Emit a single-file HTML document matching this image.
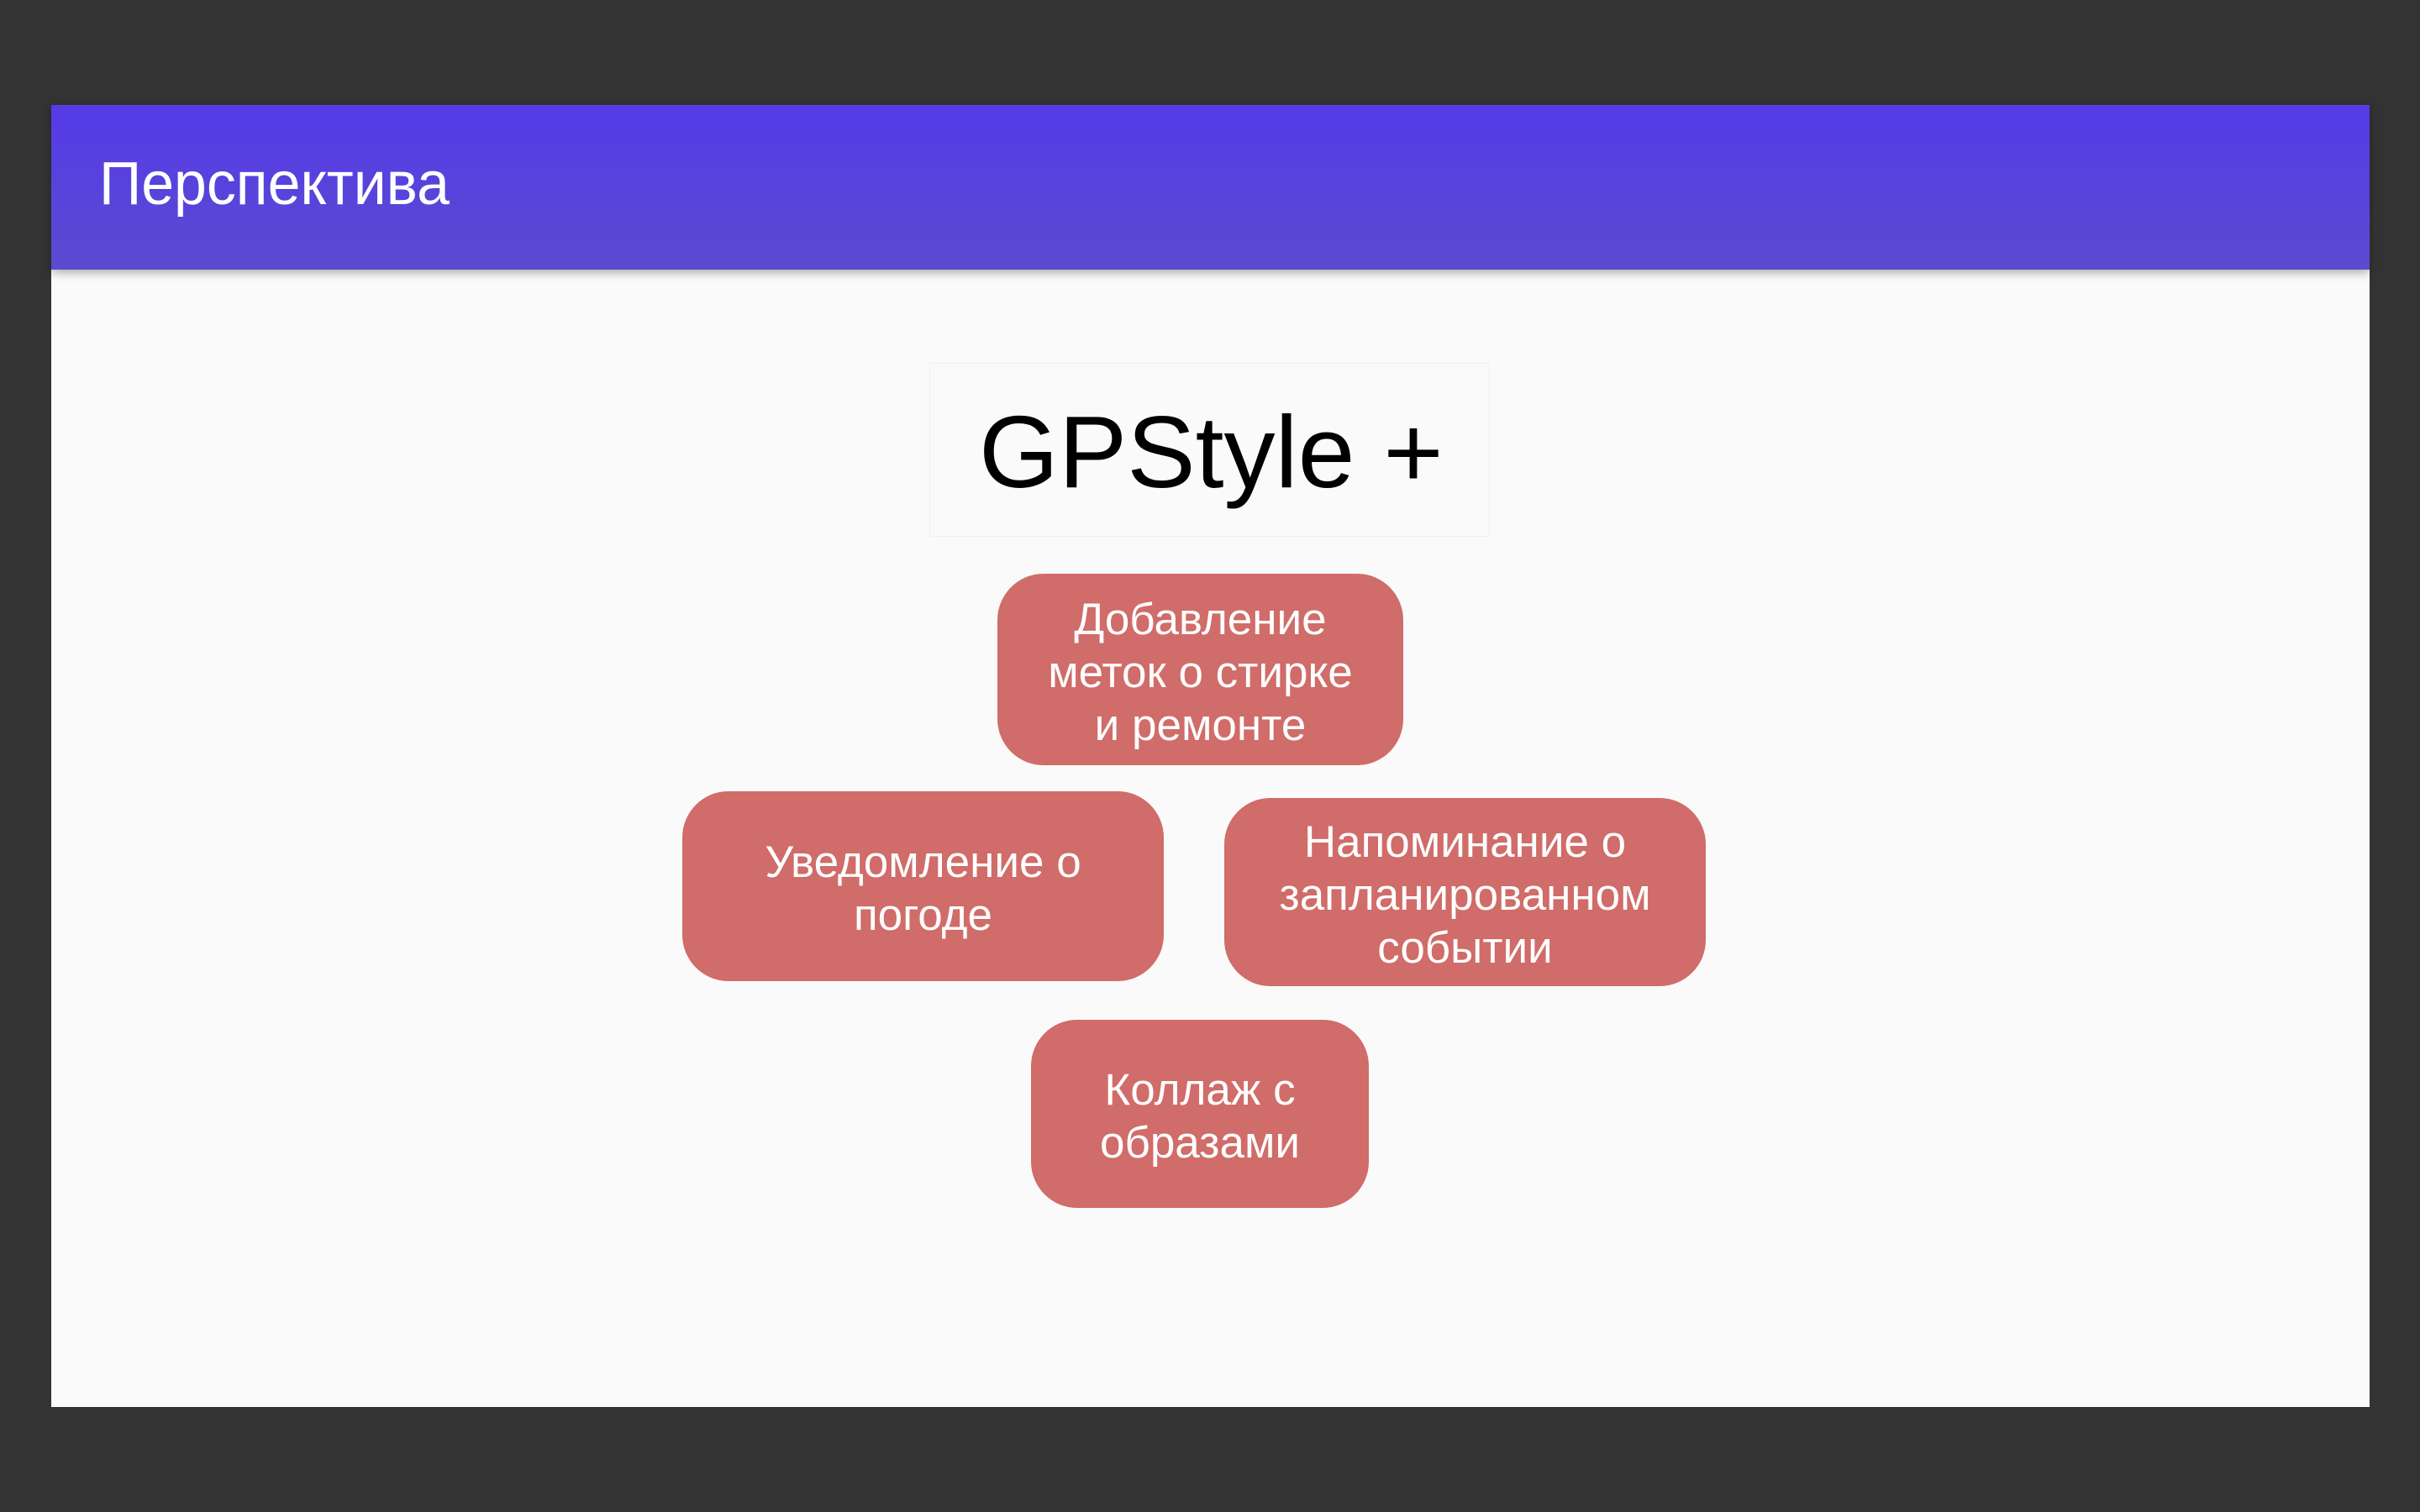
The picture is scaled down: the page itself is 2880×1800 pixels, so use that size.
<!DOCTYPE html>
<html><head><meta charset="utf-8"><style>
body{margin:0;width:2880px;height:1800px;background:#333;position:relative;overflow:hidden;font-family:"Liberation Sans",sans-serif}
.slide{position:absolute;left:61px;top:125px;width:2759px;height:1550px;background:#fafafa}
.hdr{position:absolute;left:0;top:0;width:100%;height:196px;background:linear-gradient(#553be8,#5c4ad0);box-shadow:0 4px 10px rgba(0,0,0,.3)}
.hdr span{position:absolute;left:57px;top:53px;font-size:72px;color:#fff;transform:scaleX(.97);transform-origin:left}
.gp{position:absolute;left:1106px;top:432px;width:667px;height:207px;border:1px solid #f0f0f0;box-sizing:border-box}
.gp span{position:absolute;left:58px;top:35px;font-size:122px;color:#000;line-height:140px}
.b{position:absolute;background:#d06c69;border-radius:55px;color:#fff;font-size:53px;line-height:63px;display:flex;align-items:center;justify-content:center;text-align:center;padding-top:6px;box-sizing:border-box}
</style></head><body>
<div class="hdr" style="position:absolute;left:61px;top:125px;width:2759px;z-index:2"><span>Перспектива</span></div>
<div class="slide"></div>
<div class="gp"><span>GPStyle +</span></div>
<div class="b" style="left:1187px;top:683px;width:483px;height:228px">Добавление<br>меток о стирке<br>и ремонте</div>
<div class="b" style="left:812px;top:942px;width:573px;height:226px">Уведомление о<br>погоде</div>
<div class="b" style="left:1457px;top:950px;width:573px;height:224px">Напоминание о<br>запланированном<br>событии</div>
<div class="b" style="left:1227px;top:1214px;width:402px;height:224px">Коллаж с<br>образами</div>
</body></html>
